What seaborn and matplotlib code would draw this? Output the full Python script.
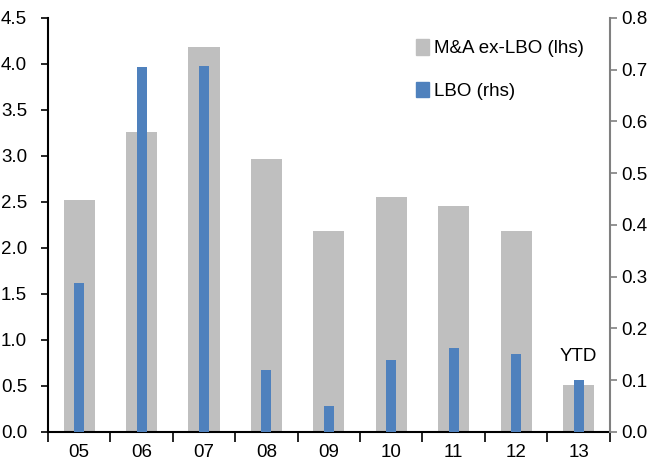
import matplotlib
matplotlib.use("Agg")
import matplotlib.pyplot as plt
import seaborn as sns
import numpy as np
import pandas as pd
from matplotlib.patches import Patch

# data
years = ["05", "06", "07", "08", "09", "10", "11", "12", "13"]
mna_ex_lbo = [2.52, 3.26, 4.18, 2.97, 2.18, 2.55, 2.46, 2.18, 0.51]
lbo = [0.288, 0.705, 0.707, 0.12, 0.05, 0.139, 0.162, 0.151, 0.10]

gray = "#BFBFBF"
blue = "#4F81BD"
fs = 13.5

sns.set_style("white")
plt.rcParams["font.family"] = ["Liberation Sans", "DejaVu Sans"]
plt.rcParams["font.size"] = fs
plt.rcParams["text.color"] = "black"
plt.rcParams["xtick.color"] = "black"
plt.rcParams["ytick.color"] = "black"

df = pd.DataFrame({"year": years, "mna": mna_ex_lbo, "lbo": lbo})

fig = plt.figure(figsize=(6.48, 4.61), dpi=100)
ax = fig.add_axes([0.074, 0.063, 0.867, 0.898])

sns.barplot(data=df, x="year", y="mna", color=gray, width=0.5, saturation=1, linewidth=0, ax=ax)
ax2 = ax.twinx()
sns.barplot(data=df, x="year", y="lbo", color=blue, width=0.16, saturation=1, linewidth=0, ax=ax2)

ax.set_xlim(-0.5, len(years) - 0.5)
ax.set_ylim(0, 4.5)
ax.set_yticks(np.arange(0, 4.51, 0.5))
ax.set_yticklabels([f"{v:.1f}" for v in np.arange(0, 4.51, 0.5)])
ax2.set_ylim(0, 0.8)
ax2.set_yticks(np.arange(0, 0.81, 0.1))
ax2.set_yticklabels([f"{v:.1f}" for v in np.arange(0, 0.81, 0.1)])

for a in (ax, ax2):
    a.set_xlabel("")
    a.set_ylabel("")
    a.spines["top"].set_visible(False)

# spines: black left/bottom, gray right
ax.spines["right"].set_visible(False)
ax2.spines["left"].set_visible(False)
ax2.spines["bottom"].set_visible(False)
ax.spines["left"].set_color("black")
ax.spines["bottom"].set_color("black")
ax.spines["left"].set_linewidth(1.5)
ax.spines["bottom"].set_linewidth(1.5)
ax2.spines["right"].set_color("#808080")
ax2.spines["right"].set_linewidth(1.5)

# x ticks at category boundaries, labels centered
ax.set_xticks(np.arange(-0.5, len(years) + 0.5, 1), minor=False)
ax.set_xticklabels([])
ax.set_xticks(np.arange(len(years)), minor=True)
ax.set_xticklabels(years, minor=True)
ax.tick_params(axis="x", which="major", direction="out", length=7, width=1.2, color="black", bottom=True)
ax.tick_params(axis="x", which="minor", length=0, pad=9, labelsize=fs)
ax.tick_params(axis="y", direction="out", length=5, width=1.2, color="black", left=True, pad=10, labelsize=fs)
ax2.tick_params(axis="y", direction="out", length=5, width=1.2, color="#808080", right=True, pad=3, labelsize=fs)

ax.text(8, 0.73, "YTD", ha="center", va="bottom", fontsize=fs)

handles = [Patch(color=gray, label="M&A ex-LBO (lhs)"), Patch(color=blue, label="LBO (rhs)")]
ax2.legend(handles=handles, loc="upper left", bbox_to_anchor=(0.625, 0.99), frameon=False,
           handlelength=0.7, handleheight=0.9, handletextpad=0.25, labelspacing=1.3, fontsize=fs)

fig.savefig("out.png", dpi=100)
